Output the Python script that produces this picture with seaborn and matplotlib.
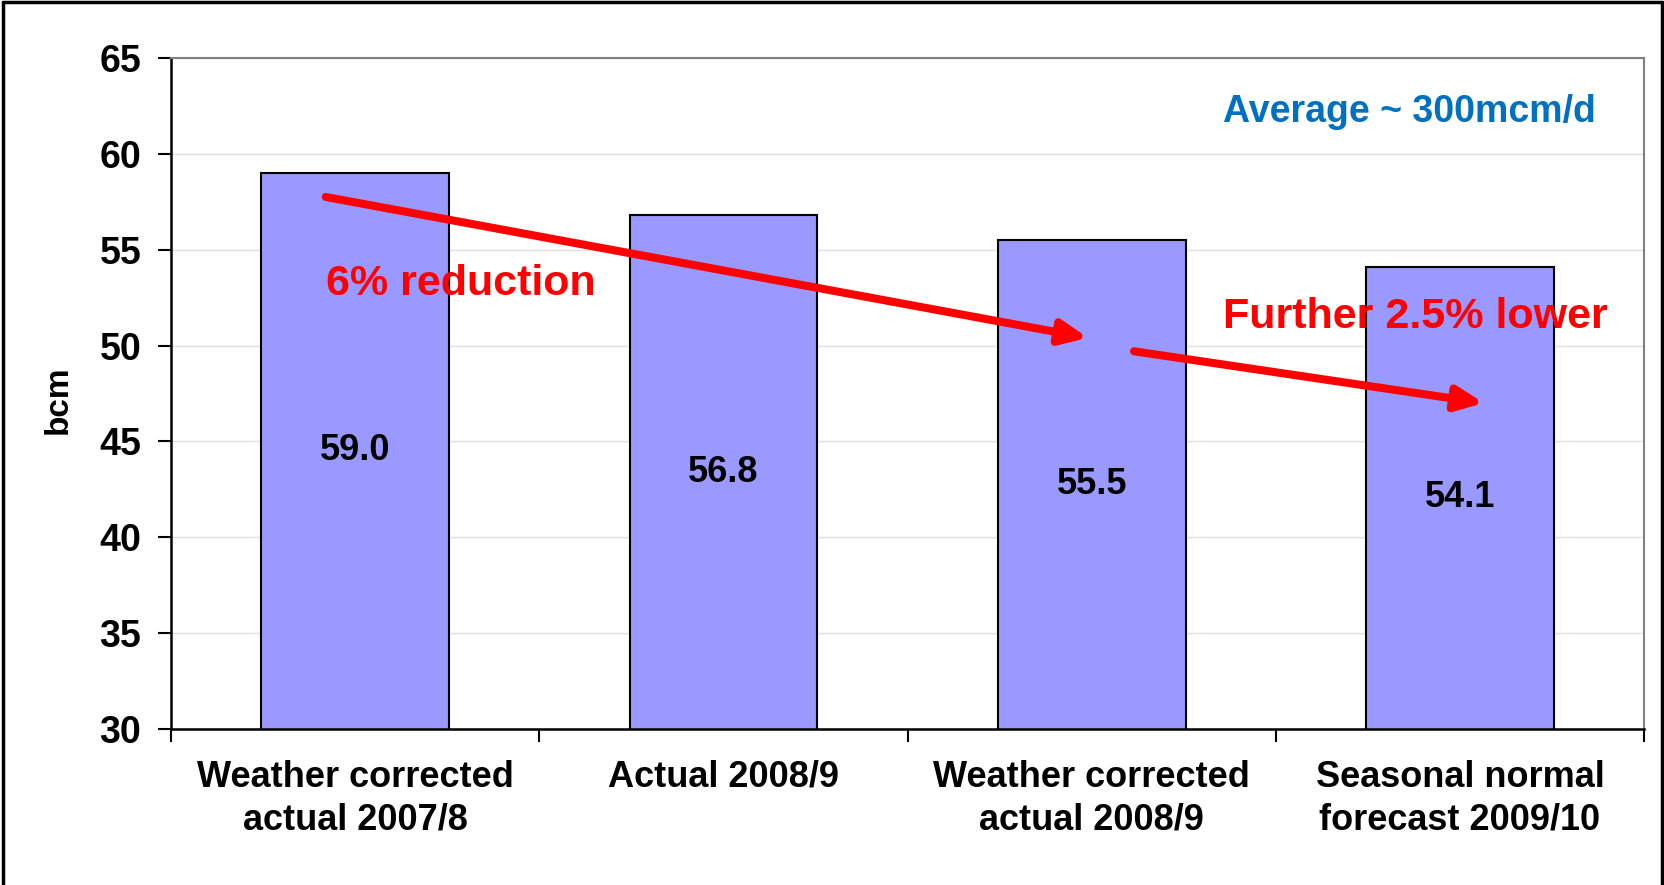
import matplotlib
matplotlib.use("Agg")
import matplotlib.pyplot as plt
import seaborn as sns
import pandas as pd
from matplotlib.lines import Line2D

# Data
categories = ["Weather corrected\nactual 2007/8", "Actual 2008/9",
              "Weather corrected\nactual 2008/9", "Seasonal normal\nforecast 2009/10"]
values = [59.0, 56.8, 55.5, 54.1]
y_ticks = [30, 35, 40, 45, 50, 55, 60, 65]

# Annotations (data coordinates)
arrow_reduction = ((-0.08, 57.75), (1.99, 50.4))
arrow_further = ((2.115, 49.7), (3.065, 47.0))
note_reduction = (-0.08, 53.2, "6% reduction")
note_further = (2.356, 51.5, "Further 2.5% lower")
note_average = (2.356, 62.2, "Average ~ 300mcm/d")

sns.set_style("white")
plt.rcParams["font.family"] = ["Liberation Sans", "DejaVu Sans"]
plt.rcParams["font.weight"] = "bold"
for key in ["text.color", "axes.labelcolor", "xtick.color", "ytick.color"]:
    plt.rcParams[key] = "black"

df = pd.DataFrame({"category": categories, "bcm": values})

fig = plt.figure(figsize=(16.64, 8.85), dpi=100)
ax = fig.add_axes([0.1028, 0.1763, 0.8852, 0.7582])

sns.barplot(data=df, x="category", y="bcm", ax=ax, color="#9999FF",
            saturation=1, width=0.51, edgecolor="black", linewidth=1.5, zorder=2)

ax.set_ylim(30, 65)
ax.set_xlim(-0.5, len(categories) - 0.5)
ax.set_yticks(y_ticks)
ax.yaxis.grid(True, color="#e0e0e0", lw=1, zorder=0)
ax.set_axisbelow(True)

# value labels centred inside bars
for i, v in enumerate(values):
    ax.text(i, (30 + v) / 2, f"{v:.1f}", ha="center", va="center",
            fontsize=26, fontweight="bold", color="black", zorder=4)

# x ticks between categories, labels centred
ax.set_xticks(range(len(categories)))
ax.set_xticklabels(categories, fontsize=26, fontweight="bold", linespacing=1.3)
ax.set_xticks([i - 0.5 for i in range(len(categories) + 1)], minor=True)
ax.tick_params(axis="x", which="major", bottom=True, length=0, pad=22)
ax.tick_params(axis="x", which="minor", bottom=True, length=9.5, width=1.5,
               direction="out", color="black")
ax.tick_params(axis="y", left=True, length=9.5, width=1.5, direction="out",
               pad=12, labelsize=27, color="black")
for lab in ax.get_yticklabels():
    lab.set_fontweight("bold")

ax.set_xlabel("")
ax.set_ylabel("bcm", fontsize=24, fontweight="bold")
ax.yaxis.set_label_coords(-0.066, 0.49)

for side in ["left", "bottom"]:
    ax.spines[side].set_color("black")
    ax.spines[side].set_linewidth(1.8)
for side in ["top", "right"]:
    ax.spines[side].set_visible(True)
    ax.spines[side].set_color("#808080")
    ax.spines[side].set_linewidth(1.5)

# arrows
for start, end in [arrow_reduction, arrow_further]:
    ax.annotate("", xy=end, xytext=start, zorder=5,
                arrowprops=dict(arrowstyle="-|>,head_length=1.0,head_width=0.45",
                                mutation_scale=16, lw=5.8, color="red",
                                shrinkA=0, shrinkB=0))

for x, y, txt in [note_reduction, note_further]:
    ax.text(x, y, txt, ha="left", va="center", fontsize=31, fontweight="bold",
            color="red", zorder=6)
ax.text(note_average[0], note_average[1], note_average[2], ha="left", va="center",
        fontsize=27, fontweight="bold", color="#0070C0", zorder=6)

# frame around the whole figure
for xs, ys in [([0.002, 0.002], [0, 0.998]), ([0.002, 0.999], [0.998, 0.998]),
               ([0.999, 0.999], [0, 0.998])]:
    fig.add_artist(Line2D(xs, ys, transform=fig.transFigure, color="black", lw=2.5))

fig.savefig("out.png", dpi=100)
